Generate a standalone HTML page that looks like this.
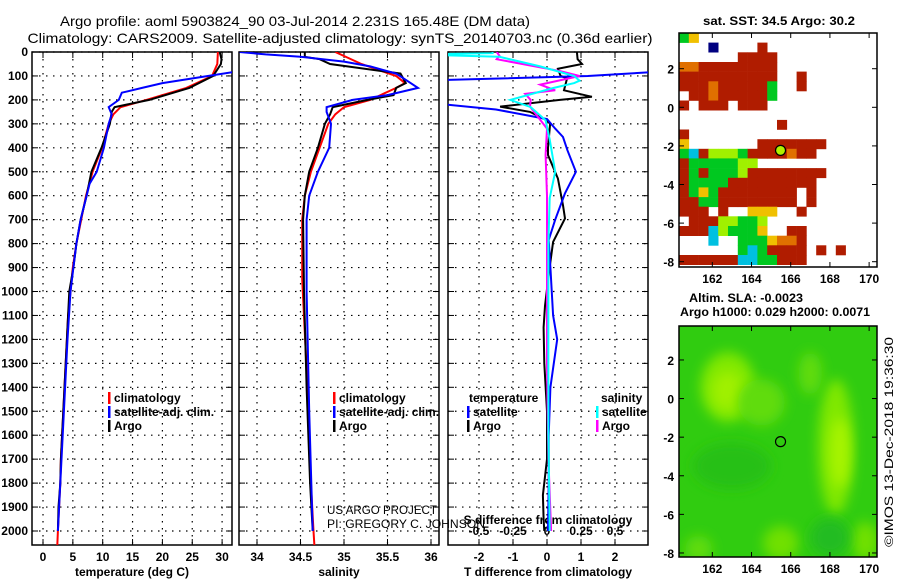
<!DOCTYPE html>
<html><head><meta charset="utf-8"><style>
html,body{margin:0;padding:0;background:#fff;}
svg{display:block;font-family:"Liberation Sans",sans-serif;}
.t{font-size:12px;font-weight:bold;fill:#000;}
.tt{font-size:14px;fill:#000;}
</style></head><body>
<svg id="c" width="900" height="580" viewBox="0 0 900 580" xmlns="http://www.w3.org/2000/svg">
<defs>
<clipPath id="cp1"><rect x="32" y="52" width="200" height="493"/></clipPath>
<clipPath id="cp2"><rect x="239" y="52" width="200" height="493"/></clipPath>
<clipPath id="cp3"><rect x="448" y="52" width="200" height="493"/></clipPath>
<clipPath id="cpm2"><rect x="679" y="326" width="198" height="231"/></clipPath>
<filter id="bl" x="-50%" y="-50%" width="200%" height="200%"><feGaussianBlur stdDeviation="6"/></filter>
</defs>
<text class="tt" x="295" y="26" text-anchor="middle" textLength="470" lengthAdjust="spacingAndGlyphs">Argo profile: aoml 5903824_90 03-Jul-2014 2.231S 165.48E (DM data)</text>
<text class="tt" x="340" y="43" text-anchor="middle" textLength="625" lengthAdjust="spacingAndGlyphs">Climatology: CARS2009. Satellite-adjusted climatology: synTS_20140703.nc (0.36d earlier)</text>
<text class="t" x="779" y="25" text-anchor="middle" textLength="152" lengthAdjust="spacingAndGlyphs">sat. SST: 34.5 Argo: 30.2</text>
<text class="t" x="746" y="302" text-anchor="middle" textLength="114" lengthAdjust="spacingAndGlyphs">Altim. SLA: -0.0023</text>
<text class="t" x="775" y="316" text-anchor="middle" textLength="190" lengthAdjust="spacingAndGlyphs">Argo h1000: 0.029 h2000: 0.0071</text>
<text class="t" x="893" y="442" text-anchor="middle" transform="rotate(-90 893 442)" style="font-weight:normal" textLength="210" lengthAdjust="spacingAndGlyphs">©IMOS 13-Dec-2018 19:36:30</text>
<g id="g"></g>
</svg>
<script>
// ---- data ----
const depthTicks=[0,100,200,300,400,500,600,700,800,900,1000,1100,1200,1300,1400,1500,1600,1700,1800,1900,2000];
const tempTicks=[0,5,10,15,20,25,30];
const salTicks=[34,34.5,35,35.5,36];
const tdTicks=[-2,-1,0,1,2];
const sdTicks=[-0.5,-0.25,0,0.25,0.5];
const sdTickLabels=["-0.5","-0.25","0","0.25","0.5"];
const lonTicks=[162,164,166,168,170];
const latTicks=[2,0,-2,-4,-6,-8];

const tArgoD=[0,30,50,100,150,200,230,250,300,400,500,600,700,800,900,1000,1100,1200,1300,1400,1500,1600,1700,1800,1900,2000];
const tArgoV=[29.6,29.9,29.8,28.5,24.5,17.8,12,11.5,11.2,9.8,8.1,7.3,6.3,5.6,5.1,4.4,4.2,4.0,3.8,3.6,3.4,3.2,3.0,2.9,2.6,2.5];
const tClimD=[0,50,100,150,200,230,260,300,400,500,600,700,800,900,1000,1100,1200,1300,1400,1500,1600,1700,1800,1900,2000,2060];
const tClimV=[29.3,29.2,28.3,24,17.3,13,11.8,11,9.9,8.3,7.2,6.4,5.6,5.0,4.6,4.2,4.0,3.8,3.6,3.4,3.2,3.0,2.9,2.7,2.5,2.4];
const tSatD=[0,60,83,100,130,150,170,200,230,260,300,400,500,550,600,700,800,900,1000,1200,1400,1600,1800,2000];
const tSatV=[36,34,32,27.6,20,16.6,13.2,12.7,11,11.5,11,10.2,9,7.8,7.3,6.3,5.6,5.1,4.6,4.1,3.7,3.3,2.9,2.5];

const sArgoD=[0,20,30,50,90,130,150,180,200,230,260,300,400,500,600,700,1000,1400,1800,2000];
const sArgoV=[34.55,34.55,34.72,34.84,35.65,35.71,35.6,35.57,35.27,34.87,34.84,34.78,34.7,34.6,34.55,34.53,34.54,34.57,34.61,34.64];
const sClimD=[0,50,100,130,150,200,230,260,300,400,500,600,700,950,1400,1800,2000,2060];
const sClimV=[34.9,35.2,35.6,35.7,35.6,35.3,35.0,34.9,34.82,34.72,34.62,34.55,34.52,34.52,34.58,34.62,34.65,34.66];
const sSatD=[0,10,20,40,60,90,150,180,200,230,250,300,400,500,600,700,1000,1500,2000];
const sSatV=[33.8,34.1,34.5,35.0,35.3,35.6,35.85,35.5,35.1,34.8,34.8,34.85,34.83,34.7,34.6,34.57,34.57,34.6,34.64];

const dTsatD=[0,70,83,100,118,200,215,240,280,320,355,410,500,590,700,785,900,1100,1200,1400,1600,1800,2000];
const dTsatV=[4,3.6,3.2,1.2,-3.3,-5,-3.3,-1.5,0.0,0.24,0.47,0.6,0.85,0.53,0.24,0.05,0.1,0.18,0.3,0.1,0.05,0.05,0.03];
const dTargoD=[0,30,50,70,100,110,160,187,200,228,250,285,300,400,430,528,640,695,793,920,1060,1150,1300,1500,1700,1850,1950,2000];
const dTargoV=[0.88,0.9,1.03,0.32,0.4,0.59,0.5,1.32,0.38,-1.38,-0.5,0.0,0.09,0.03,0.03,0.32,0.47,0.53,0.18,0.06,-0.06,-0.1,-0.08,0.0,0.0,-0.12,-0.1,-0.08];
const dSsatD=[0,5,10,20,60,100,120,130,150,200,230,285,365,500,610,800,1200,1600,2000];
const dSsatV=[-0.4,-0.4,-1,-0.35,-0.05,0.2,0.24,0.2,0.05,-0.27,-0.12,-0.01,0.02,0.06,0.02,0.01,0.01,0.01,0.02];
const dSargoD=[0,15,30,80,100,136,160,175,200,228,320,430,600,900,1300,1700,2000];
const dSargoV=[-0.37,-0.35,-0.37,0.1,0.24,-0.05,0.06,-0.16,-0.12,-0.125,0.0,-0.01,0.0,0.0,0.0,0.01,0.03];

const sstRows=[
"gy...................",
"...b....r............",
"......rrrr...........",
"oorrrrrrrr...........",
"rrrrrrrrrr..r........",
"rrrorrrrrg..r........",
".rrorrrrrg...........",
"r.rrr.rrr............",
".....................",
"..........r..........",
"r....................",
"y.......rrrrrrr......",
"gcrlllgrrrrorr.......",
"rgggggll.............",
"rgrggglrrrrrrrr......",
"rggggrrrrrrrrr.......",
"rgygrrrrrrrr.r.......",
"rrggrrrrrrrr.r.......",
"rrr.r..yyy..r........",
".rrrllggl............",
"rrrclgggy..rr........",
"...c..gggyoor........",
"......gcgrrrr.r.r....",
"rrrrrrccggrrr........"];
const sstColors={r:"#b01c00",o:"#e07000",y:"#f0c000",g:"#00c820",l:"#a0f000",c:"#00c0e0",b:"#000080"};
const argoLon=165.48, argoLat=-2.231;

// ---- scales ----
const yD=d=>52+d*0.2395;
const xT=v=>43+v*5.97;
const xS=v=>257+(v-34)*87;
const xDT=v=>547+v*34;
const xDS=v=>547+v*136;
const lonX=l=>679+(l-160.3)*19.6;
const latY1=l=>33+(3.85-l)*19.3;
const latY2=l=>326+(3.76-l)*19.3;

const NS="http://www.w3.org/2000/svg";
const G=document.getElementById('g');
function mk(tag,attrs,parent){const e=document.createElementNS(NS,tag);for(const k in attrs)e.setAttribute(k,attrs[k]);(parent||G).appendChild(e);return e;}

function panel(x0,w,name,xs,ticks,labels,clip){
  const g=mk('g',{});
  
  
  depthTicks.forEach(d=>{
    const y=yD(d);
    const l=mk('line',{x1:x0,x2:x0+w,y1:y,y2:y,stroke:'#000','stroke-width':1.2,'stroke-dasharray':'1.5,5.5'},g);
    
    
    mk('line',{x1:x0,x2:x0+6,y1:y,y2:y,stroke:'#000','stroke-width':1},g);
    mk('line',{x1:x0+w-6,x2:x0+w,y1:y,y2:y,stroke:'#000','stroke-width':1},g);
  });
  ticks.forEach((v,i)=>{
    const x=xs(v);
    const l=mk('line',{x1:x,x2:x,y1:52,y2:545,stroke:'#000','stroke-width':1.2,'stroke-dasharray':'1.5,5.5'},g);
    
    
    mk('line',{x1:x,x2:x,y1:545,y2:539,stroke:'#000'},g);
    mk('line',{x1:x,x2:x,y1:52,y2:58,stroke:'#000'},g);
    const t=mk('text',{x:x,y:561,'text-anchor':'middle',class:'t'},g);
    t.textContent=labels?labels[i]:String(v);
    
    
  });
  const r=mk('rect',{x:x0,y:52,width:w,height:493,fill:'none',stroke:'#000','stroke-width':1.5},g);
  
  
  return g;
}
function line(D,V,xs,color,clip,name){
  const p=D.map((d,i)=>xs(V[i]).toFixed(1)+','+yD(d).toFixed(1)).join(' ');
  const e=mk('polyline',{points:p,fill:'none',stroke:color,'stroke-width':2,'clip-path':'url(#'+clip+')','stroke-linejoin':'miter'});
  
  
}
function txt(x,y,s,name,extra){const t=mk('text',Object.assign({x:x,y:y,class:'t'},extra||{}));t.textContent=s;return t;}

panel(32,200,'temperature-panel',xT,tempTicks,null,'cp1');
panel(239,200,'salinity-panel',xS,salTicks,['34','34.5','35','35.5','36'],'cp2');
panel(448,200,'difference-panel',xDT,tdTicks,null,'cp3');
depthTicks.forEach(d=>{txt(28,yD(d)+4,String(d),'y-tick-label',{'text-anchor':'end'});});
txt(132,576,'temperature (deg C)','x-axis-title-temperature',{'text-anchor':'middle'});
txt(339,576,'salinity','x-axis-title-salinity',{'text-anchor':'middle'});
txt(548,576,'T difference from climatology','x-axis-title-tdiff',{'text-anchor':'middle'});
sdTicks.forEach((v,i)=>{txt(xDS(v),535,sdTickLabels[i],'s-diff-tick-label',{'text-anchor':'middle'});});
txt(548,524,'S difference from climatology','s-diff-axis-title',{'text-anchor':'middle'});

line(tClimD,tClimV,xT,'#ff0000','cp1','temp-climatology-line');
line(tArgoD,tArgoV,xT,'#000000','cp1','temp-argo-line');
line(tSatD,tSatV,xT,'#0000ff','cp1','temp-satellite-line');
line(sClimD,sClimV,xS,'#ff0000','cp2','sal-climatology-line');
line(sArgoD,sArgoV,xS,'#000000','cp2','sal-argo-line');
line(sSatD,sSatV,xS,'#0000ff','cp2','sal-satellite-line');
line(dTargoD,dTargoV,xDT,'#000000','cp3','tdiff-argo-line');
line(dTsatD,dTsatV,xDT,'#0000ff','cp3','tdiff-satellite-line');
line(dSargoD,dSargoV,xDS,'#ff00ff','cp3','sdiff-argo-line');
line(dSsatD,dSsatV,xDS,'#00ffff','cp3','sdiff-satellite-line');

function leg(x,y,color,label,name){
  const m=mk('rect',{x:x,y:y-10,width:2.5,height:12,fill:color});
  
  
  txt(x+6,y,label,name);
}
leg(108,402,'#ff0000','climatology','legend-temp-climatology');
leg(108,416,'#0000ff','satellite-adj. clim.','legend-temp-satellite');
leg(108,430,'#000','Argo','legend-temp-argo');
leg(333,402,'#ff0000','climatology','legend-sal-climatology');
leg(333,416,'#0000ff','satellite-adj. clim.','legend-sal-satellite');
leg(333,430,'#000','Argo','legend-sal-argo');
txt(469,402,'temperature','legend-temperature-header');
leg(467,416,'#0000ff','satellite','legend-tdiff-satellite');
leg(467,430,'#000','Argo','legend-tdiff-argo');
txt(601,402,'salinity','legend-salinity-header');
leg(596,416,'#00ffff','satellite','legend-sdiff-satellite');
leg(596,430,'#ff00ff','Argo','legend-sdiff-argo');
txt(327,514,'US ARGO PROJECT','credit-project',{style:'font-weight:normal',textLength:'110',lengthAdjust:'spacingAndGlyphs'});
txt(327,528,'PI: GREGORY C. JOHNSON','credit-pi',{style:'font-weight:normal',textLength:'158',lengthAdjust:'spacingAndGlyphs'});

const sst=mk('g',{});


sstRows.forEach((row,j)=>{
  for(let i=0;i<row.length;i++){
    const ch=row[i]; if(ch==='.')continue;
    const lon=160.3+i*0.5, lat=3.85-j*0.5;
    const x1=lonX(lon),x2=lonX(Math.min(lon+0.5,170.4));
    const y1=latY1(lat),y2=latY1(Math.max(lat-0.5,-8.3));
    const c=mk('rect',{x:x1.toFixed(1),y:y1.toFixed(1),width:(x2-x1+0.3).toFixed(1),height:(y2-y1+0.3).toFixed(1),fill:sstColors[ch]},sst);
    
    
  }
});
function mapFrame(top,bot,latY,name){
  const g=mk('g',{});
  
  
  mk('rect',{x:679,y:top,width:198,height:bot-top,fill:'none',stroke:'#000','stroke-width':1.5},g);
  lonTicks.forEach(l=>{const x=lonX(l);mk('line',{x1:x,x2:x,y1:bot,y2:bot-5,stroke:'#000'},g);mk('line',{x1:x,x2:x,y1:top,y2:top+5,stroke:'#000'},g);
    txt(x,bot+16,String(l),'lon-tick-label',{'text-anchor':'middle'});});
  latTicks.forEach(l=>{const y=latY(l);mk('line',{x1:679,x2:684,y1:y,y2:y,stroke:'#000'},g);mk('line',{x1:872,x2:877,y1:y,y2:y,stroke:'#000'},g);
    txt(674,y+5,String(l),'lat-tick-label',{'text-anchor':'end'});});
}
mapFrame(33,267,latY1,'sst-map-frame');
const m1=mk('circle',{cx:lonX(argoLon),cy:latY1(argoLat),r:5,fill:'#b0f000',stroke:'#000','stroke-width':1.2});



const sla=mk('g',{'clip-path':'url(#cpm2)'});


mk('rect',{x:679,y:326,width:198,height:231,fill:'#30cc10'},sla);
const blobs=[[162.8,0.6,1.4,1.8,'#80e800'],[162.8,0.4,0.8,1.0,'#a0f000'],[164.5,-0.2,1.2,1.2,'#60dc08'],[168.3,-2.5,0.9,3.5,'#80e800'],[168.5,-2.8,0.5,1.8,'#a8f400'],[165.5,-7.5,0.9,0.9,'#70e000'],[169.8,-7.4,0.7,1.0,'#70e000'],[161.3,-7.8,0.7,0.7,'#60dc08'],[167.0,1.3,0.6,1.1,'#60dc08'],[163,-3.5,2,1.2,'#28c018'],[168,-7.2,1,1,'#20bc20']];
blobs.forEach(b=>{const e=mk('ellipse',{cx:lonX(b[0]),cy:latY2(b[1]),rx:b[2]*19.6,ry:b[3]*19.3,fill:b[4],filter:'url(#bl)'},sla);
  
  });
mapFrame(326,557,latY2,'sla-map-frame');
const m2=mk('circle',{cx:lonX(argoLon),cy:latY2(argoLat),r:5,fill:'none',stroke:'#000','stroke-width':1.2});


</script>
</body></html>
